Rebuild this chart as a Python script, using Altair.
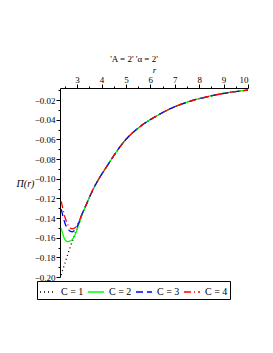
import altair as alt
import pandas as pd

labels = ["C = 1", "C = 2", "C = 3", "C = 4"]
colors = ["#000000", "#00ff00", "#0000ff", "#ff0000"]
dashes = [[1, 3], [1, 0], [7, 4], [7, 3, 1, 3]]

# early (distinct) branches
r_c1 = [2.35, 2.5, 2.7, 2.9, 3.1, 3.2]
v_c1 = [-0.198, -0.186, -0.171, -0.157, -0.144, -0.137]
r_c2 = [2.35, 2.45, 2.6, 2.75, 2.9, 3.05, 3.2]
v_c2 = [-0.150, -0.159, -0.164, -0.163, -0.158, -0.148, -0.137]
r_c3 = [2.35, 2.5, 2.65, 2.8, 2.95, 3.1, 3.2]
v_c3 = [-0.131, -0.145, -0.152, -0.154, -0.151, -0.143, -0.136]
r_c4 = [2.35, 2.5, 2.65, 2.8, 2.95, 3.1, 3.2]
v_c4 = [-0.123, -0.139, -0.148, -0.151, -0.149, -0.142, -0.136]

# shared tail
r_common = [3.33, 3.61, 4.3, 4.98, 5.59, 6.28, 6.96, 7.64, 8.33, 9.01, 10.0]
v_common = [-0.129, -0.1132, -0.0843, -0.0606, -0.0468, -0.0358, -0.0272,
            -0.0210, -0.0166, -0.0131, -0.0098]

rows = []
for lab, rs, vs in zip(labels, [r_c1, r_c2, r_c3, r_c4], [v_c1, v_c2, v_c3, v_c4]):
    for r, v in zip(rs + r_common, vs + v_common):
        rows.append({"r": r, "v": v, "C": lab})
df = pd.DataFrame(rows)

x_vals = [2.5, 3, 3.5, 4, 4.5, 5, 5.5, 6, 6.5, 7, 7.5, 8, 8.5, 9, 9.5, 10]
y_vals = [round(-0.01 * k, 2) for k in range(1, 21)]

serif = "Liberation Serif"

chart = alt.Chart(df).mark_line(strokeWidth=1.3, interpolate="monotone", clip=True).encode(
    x=alt.X("r:Q",
            scale=alt.Scale(domain=[2.3, 10], nice=False, zero=False),
            axis=alt.Axis(orient="top", values=x_vals, title="r",
                          labelExpr="datum.value % 1 == 0 ? format(datum.value, 'd') : ''",
                          tickSize={"condition": {"test": "datum.value % 1 != 0", "value": 2}, "value": 4},
                          titleFont=serif, titleFontStyle="italic", titleFontWeight="normal",
                          titleFontSize=9, titlePadding=1, labelPadding=0,
                          labelFont=serif, labelFontSize=9, grid=False,
                          domainColor="black", tickColor="black", labelColor="black",
                          titleColor="black")),
    y=alt.Y("v:Q",
            scale=alt.Scale(domain=[-0.2, -0.0077], nice=False, zero=False),
            axis=alt.Axis(orient="left", values=y_vals, format=".2f", title="Π(r)",
                          labelExpr="round(datum.value*100) % 2 == 0 ? datum.label : ''",
                          tickSize={"condition": {"test": "round(datum.value*100) % 2 != 0", "value": 2}, "value": 4},
                          titleAngle=0, titleAlign="center", titleBaseline="middle",
                          titleX=-35, titleY=95,
                          titleFont=serif, titleFontStyle="italic", titleFontWeight="normal",
                          titleFontSize=10, labelPadding=1,
                          labelFont=serif, labelFontSize=9, grid=False,
                          domainColor="black", tickColor="black", labelColor="black",
                          titleColor="black")),
    color=alt.Color("C:N", scale=alt.Scale(domain=labels, range=colors), title=None),
    strokeDash=alt.StrokeDash("C:N", scale=alt.Scale(domain=labels, range=dashes), title=None),
    order=alt.Order("C:N"),
).properties(
    width=188, height=189,
    padding={"left": 52, "top": 80, "right": 17, "bottom": 60},
    autosize="none",
    title=alt.TitleParams("'A = 2' 'α = 2'", font=serif, fontSize=9, fontWeight="normal",
                          color="black", dx=-20, offset=1),
).configure_view(strokeWidth=0).configure_legend(
    orient="none", legendX=-23, legendY=193, direction="horizontal", columns=4,
    strokeColor="black", fillColor="white", padding=2, symbolType="stroke",
    symbolSize=256, symbolStrokeWidth=1.4, labelFont=serif, labelFontSize=10,
    labelColor="black", columnPadding=1, labelOffset=4,
)

chart.save("out.html", embed_options={"renderer": "svg", "actions": False})
